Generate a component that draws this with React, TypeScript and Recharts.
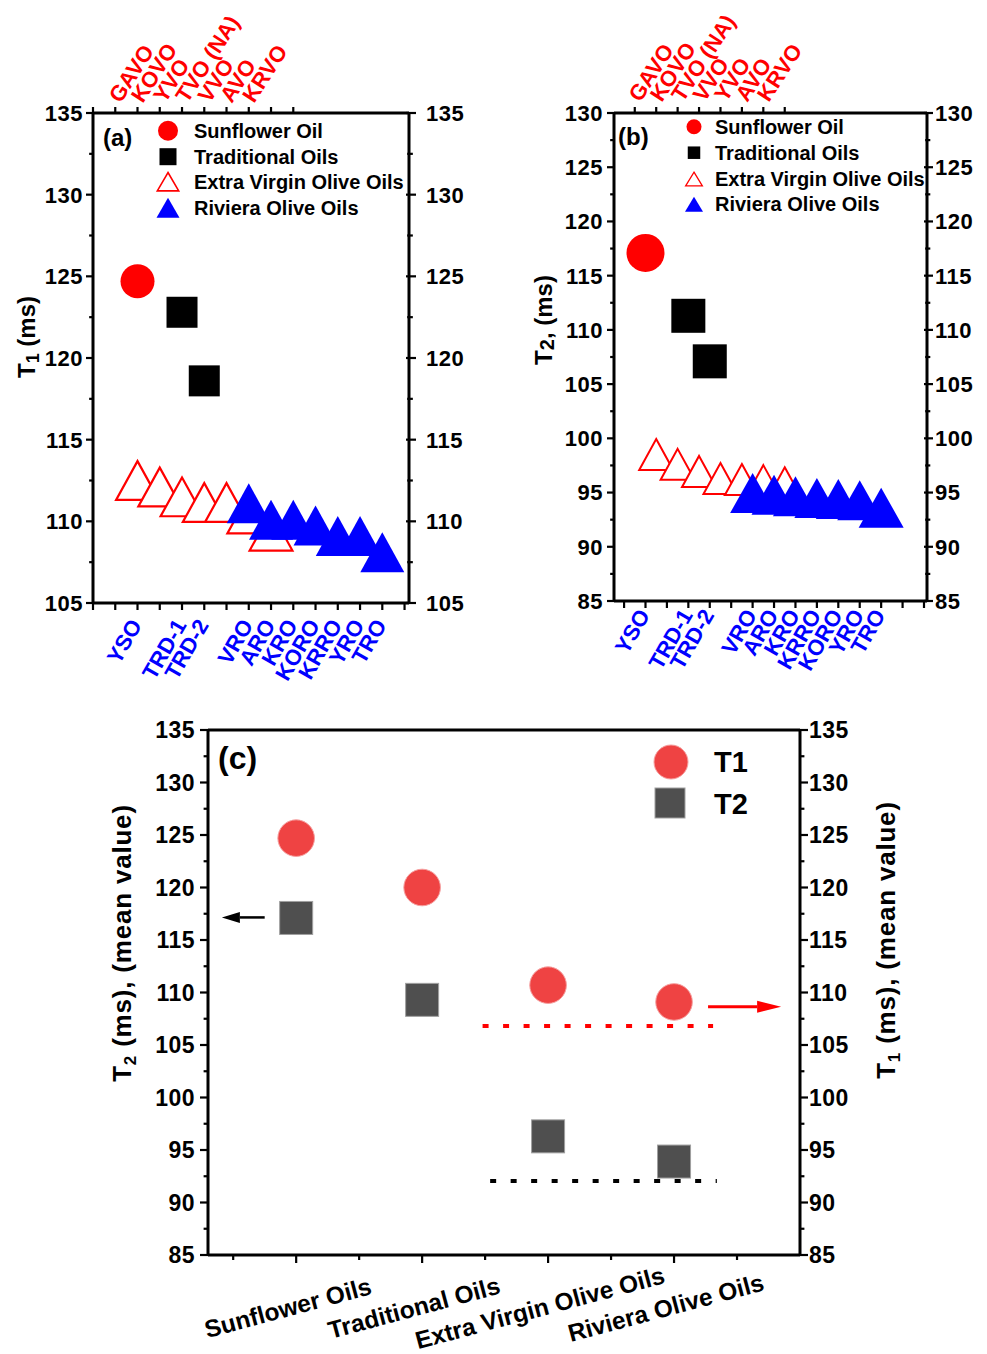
import React from "react";
import { ScatterChart, Scatter, XAxis, YAxis, ReferenceLine } from "recharts";

const FONT = "'Liberation Sans', Arial, sans-serif";
const RED = "#ff0000";
const BLUE = "#0000ff";
const INK = "#000";

// ---- panel (a): T1 per sample ----
const aSunPos = [2];
const aSunT1 = [124.7];
const aTradPos = [4, 5];
const aTradT1 = [122.8, 118.6];
const aEvooPos = [2, 3, 4, 5, 6, 7, 8];
const aEvooT1 = [112.5, 112.1, 111.5, 111.15, 111.15, 110.45, 109.4];
const aRivPos = [7, 8, 9, 10, 11, 12, 13];
const aRivT1 = [111.1, 110.1, 110.1, 109.75, 109.1, 109.1, 108.1];
const aBottomPos = [2, 4, 5, 7, 8, 9, 10, 11, 12, 13];
const aBottomLabels = ["YSO", "TRD-1", "TRD-2", "VRO", "ARO", "KRO", "KORO", "KRRO", "YRO", "TRO"];
const aTopLabels = ["GAVO", "KOVO", "YVO", "TVO (NA)", "VVO", "AVO", "KRVO"];
const aXTicks = [0, 1, 2, 3, 4, 5, 6, 7, 8, 9, 10, 11, 12, 13, 14];
const aTopTicks = [0, 1, 2, 3, 4, 5, 6, 7, 8, 9];
const aYTicks = [105, 107.5, 110, 112.5, 115, 117.5, 120, 122.5, 125, 127.5, 130, 132.5, 135];

// ---- panel (b): T2 per sample ----
const bSunPos = [1];
const bSunT2 = [117.1];
const bTradPos = [3, 4];
const bTradT2 = [111.3, 107.1];
const bEvooPos = [1.5, 2.5, 3.5, 4.5, 5.5, 6.5, 7.5];
const bEvooT2 = [98.5, 97.6, 96.95, 96.3, 96.2, 96.1, 95.9];
const bRivPos = [6, 7, 8, 9, 10, 11, 12];
const bRivT2 = [94.95, 94.8, 94.65, 94.5, 94.4, 94.3, 93.6];
const bBottomPos = [1, 3, 4, 6, 7, 8, 9, 10, 11, 12];
const bBottomLabels = ["YSO", "TRD-1", "TRD-2", "VRO", "ARO", "KRO", "KRRO", "KORO", "YRO", "TRO"];
const bTopLabels = ["GAVO", "KOVO", "TVO (NA)", "VVO", "YVO", "AVO", "KRVO"];
const bXTicks = [0, 1, 2, 3, 4, 5, 6, 7, 8, 9, 10, 11, 12, 13, 14];
const bTopTicks = [0.5, 1.5, 2.5, 3.5, 4.5, 5.5, 6.5, 7.5];
const bYTicks = [85, 87.5, 90, 92.5, 95, 97.5, 100, 102.5, 105, 107.5, 110, 112.5, 115, 117.5, 120, 122.5, 125, 127.5, 130];

// ---- panel (c): mean values per group ----
const cCategories = ["Sunflower Oils", "Traditional Oils", "Extra Virgin Olive Oils", "Riviera Olive Oils"];
const cPos = [0, 1, 2, 3];
const cT1 = [124.7, 120.0, 110.7, 109.1];
const cT2 = [117.1, 109.3, 96.3, 93.9];
const cXTicks = [-0.5, 0, 0.5, 1, 1.5, 2, 2.5, 3, 3.5];
const cYTicks = [85, 87.5, 90, 92.5, 95, 97.5, 100, 102.5, 105, 107.5, 110, 112.5, 115, 117.5, 120, 122.5, 125, 127.5, 130, 132.5, 135];
const cT1Floor = 106.8;
const cT1FloorSpan = [1.48, 3.31];
const cT2Floor = 92.05;
const cT2FloorSpan = [1.54, 3.34];

const pts = (xs: number[], ys: number[]) => xs.map((x, i) => ({ x, y: ys[i] }));
const labelMap = (xs: number[], names: string[]) => new Map(xs.map((x, i) => [x, names[i]]));

// marker shapes
const circle = (r: number, fill: string, stroke = "none") => (p: any) =>
  <circle cx={p.cx} cy={p.cy} r={r} fill={fill} stroke={stroke} strokeWidth={1} />;
const square = (s: number, fill: string, stroke = "none") => (p: any) =>
  <rect x={p.cx - s / 2} y={p.cy - s / 2} width={s} height={s} fill={fill} stroke={stroke} strokeWidth={1} />;
const tri = (w: number, h: number, fill: string, stroke: string, sw = 0) => (p: any) => (
  <polygon
    points={`${p.cx},${p.cy - h / 2 + sw / 2} ${p.cx + w / 2 - sw / 2},${p.cy + h / 2 - sw / 2} ${p.cx - w / 2 + sw / 2},${p.cy + h / 2 - sw / 2}`}
    fill={fill}
    stroke={stroke}
    strokeWidth={sw}
  />
);

const txt = { fontFamily: FONT, fontWeight: 700 as const };

// y ticks: majors every 5 get a label
const yTick = (side: "left" | "right", o: { out: number; inn: number; gap: number; size: number; ls?: number }) => (p: any) => {
  const v = p.payload.value;
  const major = v % 5 === 0;
  const d = side === "left" ? -1 : 1;
  const out = major ? o.out : o.out * 0.55;
  const inn = major ? o.inn : o.inn * 0.6;
  return (
    <g>
      <line x1={p.x - d * inn} x2={p.x + d * out} y1={p.y} y2={p.y} stroke={INK} strokeWidth={2.2} />
      {major && (
        <text x={p.x + d * o.gap} y={p.y} dy="0.36em" textAnchor={side === "left" ? "end" : "start"}
          fontSize={o.size} letterSpacing={o.ls ?? 0} fill={INK} {...txt}>
          {v}
        </text>
      )}
    </g>
  );
};

const xTickBottom = (labels: Map<number, string>, color: string, dx: number, dy: number, len: number) => (p: any) => {
  const v = p.payload.value;
  const lab = labels.get(v);
  return (
    <g>
      <line x1={p.x} x2={p.x} y1={p.y} y2={p.y + len} stroke={INK} strokeWidth={2.2} />
      {lab && (
        <text transform={`translate(${p.x + dx},${p.y + dy}) rotate(-60)`} textAnchor="end" fontSize={22} fill={color} {...txt}>
          {lab}
        </text>
      )}
    </g>
  );
};

const xTickTop = (labels: Map<number, string>, color: string, dx: number, dy: number) => (p: any) => {
  const v = p.payload.value;
  const lab = labels.get(v);
  return (
    <g>
      <line x1={p.x} x2={p.x} y1={p.y} y2={p.y - 6} stroke={INK} strokeWidth={2.2} />
      {lab && (
        <text transform={`translate(${p.x + dx},${p.y - dy}) rotate(-57)`} textAnchor="start" fontSize={22} fill={color} {...txt}>
          {lab}
        </text>
      )}
    </g>
  );
};

const xTickCat = (p: any) => {
  const v = p.payload.value;
  const major = Number.isInteger(v);
  return (
    <g>
      <line x1={p.x} x2={p.x} y1={p.y} y2={p.y + (major ? 8 : 5)} stroke={INK} strokeWidth={2.2} />
      {major && (
        <text transform={`translate(${p.x - 6},${p.y + 61}) rotate(-15)`} textAnchor="middle" fontSize={24.5} fill={INK} {...txt}>
          {cCategories[v]}
        </text>
      )}
    </g>
  );
};

const arrow = (color: string, head: number, half: number, w: number) => (p: any) => {
  const { x1, y1, x2, y2 } = p;
  const d = Math.sign(x2 - x1);
  return (
    <g>
      <line x1={x1} y1={y1} x2={x2 - d * head} y2={y2} stroke={color} strokeWidth={w} />
      <polygon points={`${x2},${y2} ${x2 - d * head},${y2 - half} ${x2 - d * head},${y2 + half}`} fill={color} />
    </g>
  );
};

const frame = { stroke: INK, strokeWidth: 3 };
const axisCommon = { allowDataOverflow: true, interval: 0 as const, tickSize: 0, tickMargin: 0, tickLine: false };

// axes are 1px wide/tall, so margins are plot edges minus 1
function PanelA() {
  return (
    <ScatterChart width={490} height={710} margin={{ top: 112, right: 80, bottom: 106, left: 92 }}>
      <XAxis xAxisId="b" type="number" dataKey="x" domain={[0, 14.2]} ticks={aXTicks} height={1} axisLine={frame}
        tick={xTickBottom(labelMap(aBottomPos, aBottomLabels), BLUE, 5, 22, 7)} {...axisCommon} />
      <XAxis xAxisId="t" orientation="top" type="number" dataKey="x" domain={[0, 14.2]} ticks={aTopTicks} height={1} axisLine={frame}
        tick={xTickTop(labelMap(aEvooPos, aTopLabels), RED, -17, 9)} {...axisCommon} />
      <YAxis yAxisId="l" type="number" dataKey="y" domain={[105, 135]} ticks={aYTicks} width={1} axisLine={frame}
        tick={yTick("left", { out: 7, inn: 0, gap: 10, size: 22, ls: 0.5 })} {...axisCommon} />
      <YAxis yAxisId="r" orientation="right" type="number" dataKey="y" domain={[105, 135]} ticks={aYTicks} width={1} axisLine={frame}
        tick={yTick("right", { out: 7, inn: 3, gap: 17, size: 22, ls: 0.5 })} {...axisCommon} />
      <Scatter xAxisId="b" yAxisId="l" data={pts(aSunPos, aSunT1)} shape={circle(17, RED)} isAnimationActive={false} />
      <Scatter xAxisId="b" yAxisId="l" data={pts(aTradPos, aTradT1)} shape={square(31, INK)} isAnimationActive={false} />
      <Scatter xAxisId="b" yAxisId="l" data={pts(aEvooPos, aEvooT1)} shape={tri(45, 41, "#fff", RED, 2.2)} isAnimationActive={false} />
      <Scatter xAxisId="b" yAxisId="l" data={pts(aRivPos, aRivT1)} shape={tri(44, 40, BLUE, "none")} isAnimationActive={false} />
    </ScatterChart>
  );
}

function PanelB() {
  return (
    <ScatterChart width={497} height={710} margin={{ top: 112, right: 59, bottom: 108, left: 123 }}>
      <XAxis xAxisId="b" type="number" dataKey="x" domain={[-0.47, 14.14]} ticks={bXTicks} height={1} axisLine={frame}
        tick={xTickBottom(labelMap(bBottomPos, bBottomLabels), BLUE, 5, 14, 7)} {...axisCommon} />
      <XAxis xAxisId="t" orientation="top" type="number" dataKey="x" domain={[-0.47, 14.14]} ticks={bTopTicks} height={1} axisLine={frame}
        tick={xTickTop(labelMap(bEvooPos, bTopLabels), RED, -16, 10)} {...axisCommon} />
      <YAxis yAxisId="l" type="number" dataKey="y" domain={[85, 130]} ticks={bYTicks} width={1} axisLine={frame}
        tick={yTick("left", { out: 7, inn: 0, gap: 11, size: 22, ls: 0.5 })} {...axisCommon} />
      <YAxis yAxisId="r" orientation="right" type="number" dataKey="y" domain={[85, 130]} ticks={bYTicks} width={1} axisLine={frame}
        tick={yTick("right", { out: 6, inn: 3, gap: 8, size: 22, ls: 0.5 })} {...axisCommon} />
      <Scatter xAxisId="b" yAxisId="l" data={pts(bSunPos, bSunT2)} shape={circle(19, RED)} isAnimationActive={false} />
      <Scatter xAxisId="b" yAxisId="l" data={pts(bTradPos, bTradT2)} shape={square(34, INK)} isAnimationActive={false} />
      <Scatter xAxisId="b" yAxisId="l" data={pts(bEvooPos, bEvooT2)} shape={tri(36, 33, "#fff", RED, 2)} isAnimationActive={false} />
      <Scatter xAxisId="b" yAxisId="l" data={pts(bRivPos, bRivT2)} shape={tri(45, 40, BLUE, "none")} isAnimationActive={false} />
    </ScatterChart>
  );
}

function PanelC() {
  return (
    <ScatterChart width={987} height={654} margin={{ top: 29, right: 186, bottom: 98, left: 207 }}>
      <XAxis xAxisId="b" type="number" dataKey="x" domain={[-0.7, 4]} ticks={cXTicks} height={1} axisLine={frame}
        tick={xTickCat} {...axisCommon} />
      <XAxis xAxisId="t" orientation="top" type="number" dataKey="x" domain={[-0.7, 4]} ticks={[]} height={1} axisLine={frame}
        tick={false} {...axisCommon} />
      <YAxis yAxisId="l" type="number" dataKey="y" domain={[85, 135]} ticks={cYTicks} width={1} axisLine={frame}
        tick={yTick("left", { out: 8, inn: 0, gap: 13, size: 23, ls: 0.5 })} {...axisCommon} />
      <YAxis yAxisId="r" orientation="right" type="number" dataKey="y" domain={[85, 135]} ticks={cYTicks} width={1} axisLine={frame}
        tick={yTick("right", { out: 8, inn: 0, gap: 9, size: 23, ls: 0.5 })} {...axisCommon} />
      <ReferenceLine xAxisId="b" yAxisId="r" segment={[{ x: cT1FloorSpan[0], y: cT1Floor }, { x: cT1FloorSpan[1], y: cT1Floor }]}
        stroke={RED} strokeWidth={4} strokeDasharray="6 14.5" />
      <ReferenceLine xAxisId="b" yAxisId="l" segment={[{ x: cT2FloorSpan[0], y: cT2Floor }, { x: cT2FloorSpan[1], y: cT2Floor }]}
        stroke={INK} strokeWidth={4} strokeDasharray="6 14.5" />
      <ReferenceLine xAxisId="b" yAxisId="l" segment={[{ x: -0.25, y: 117.15 }, { x: -0.59, y: 117.15 }]} shape={arrow(INK, 18, 5.5, 2.5)} />
      <ReferenceLine xAxisId="b" yAxisId="r" segment={[{ x: 3.27, y: 108.65 }, { x: 3.85, y: 108.65 }]} shape={arrow(RED, 24, 6, 3)} />
      <Scatter xAxisId="b" yAxisId="l" data={pts(cPos, cT2)} shape={square(33, "#4f4f4f", "#a0a0a0")} isAnimationActive={false} />
      <Scatter xAxisId="b" yAxisId="r" data={pts(cPos, cT1)} shape={circle(18.3, "#ef4343", "#f6a0a0")} isAnimationActive={false} />
    </ScatterChart>
  );
}

// legends, panel letters and axis titles
function Notes() {
  const legA = [
    { y: 130.7, name: "Sunflower Oil", m: circle(10, RED) },
    { y: 156.7, name: "Traditional Oils", m: square(17, INK) },
    { y: 181.7, name: "Extra Virgin Olive Oils", m: tri(23, 20, "#fff", RED, 1.6) },
    { y: 207.7, name: "Riviera Olive Oils", m: tri(23, 20, BLUE, "none") },
  ];
  const legB = [
    { y: 126.7, name: "Sunflower Oil", m: circle(7.5, RED) },
    { y: 152.7, name: "Traditional Oils", m: square(12.5, INK) },
    { y: 179, name: "Extra Virgin Olive Oils", m: tri(18, 15, "#fff", RED, 1.3) },
    { y: 204.3, name: "Riviera Olive Oils", m: tri(18, 15, BLUE, "none") },
  ];
  return (
    <svg width={987} height={1354} style={{ position: "absolute", left: 0, top: 0, pointerEvents: "none" }}>
      <text x={103} y={146} fontSize={24} {...txt}>(a)</text>
      {legA.map((r) => (
        <g key={r.name}>
          {r.m({ cx: 168, cy: r.y })}
          <text x={194} y={r.y + 7} fontSize={20} {...txt}>{r.name}</text>
        </g>
      ))}
      <text transform="translate(35,337) rotate(-90)" textAnchor="middle" fontSize={24} {...txt}>
        T<tspan fontSize={18} dy={4}>1</tspan><tspan dy={-4}> (ms)</tspan>
      </text>

      <text x={618} y={145} fontSize={24} {...txt}>(b)</text>
      {legB.map((r) => (
        <g key={r.name}>
          {r.m({ cx: 694, cy: r.y })}
          <text x={715} y={r.y + 7} fontSize={20} {...txt}>{r.name}</text>
        </g>
      ))}
      <text transform="translate(552,320) rotate(-90)" textAnchor="middle" fontSize={24} {...txt}>
        T<tspan fontSize={20} dy={2}>2</tspan><tspan dy={-2}>, (ms)</tspan>
      </text>

      <text x={218} y={769} fontSize={32} {...txt}>(c)</text>
      {circle(17, "#ef4343", "#f6a0a0")({ cx: 671, cy: 762 })}
      {square(30, "#4f4f4f", "#a0a0a0")({ cx: 670, cy: 803 })}
      <text x={714} y={772} fontSize={29} {...txt}>T1</text>
      <text x={714} y={814} fontSize={29} {...txt}>T2</text>
      <text transform="translate(131,943) rotate(-90)" textAnchor="middle" fontSize={26} letterSpacing={0.8} {...txt}>
        T<tspan fontSize={17} dy={5}>2</tspan><tspan dy={-5}> (ms), (mean value)</tspan>
      </text>
      <text transform="translate(895,940) rotate(-90)" textAnchor="middle" fontSize={26} letterSpacing={0.8} {...txt}>
        T<tspan fontSize={17} dy={5}>1</tspan><tspan dy={-5}> (ms), (mean value)</tspan>
      </text>
    </svg>
  );
}

export default function App() {
  return (
    <div style={{ position: "absolute", left: 0, top: 0, width: 987, height: 1354, background: "#fff", fontFamily: FONT }}>
      <div style={{ position: "absolute", left: 0, top: 0 }}><PanelA /></div>
      <div style={{ position: "absolute", left: 490, top: 0 }}><PanelB /></div>
      <div style={{ position: "absolute", left: 0, top: 700 }}><PanelC /></div>
      <Notes />
    </div>
  );
}
